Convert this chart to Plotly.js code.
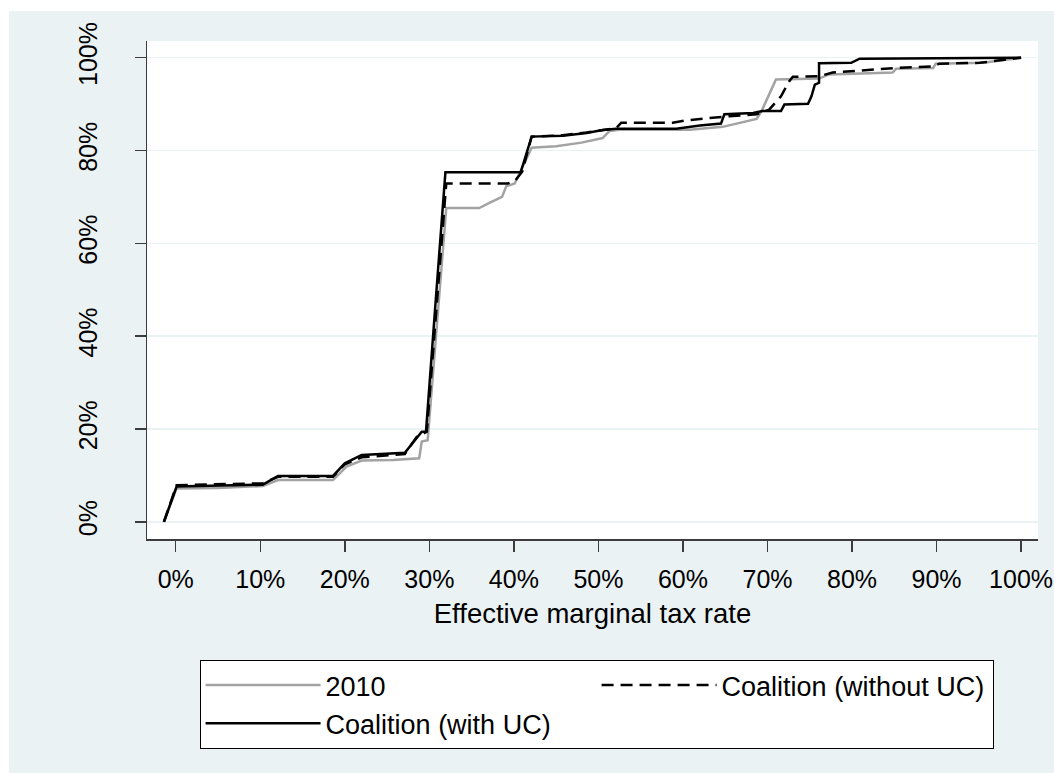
<!DOCTYPE html>
<html>
<head>
<meta charset="utf-8">
<script src="https://cdn.plot.ly/plotly-3.0.1.min.js"></script>
<style>
  html, body { margin: 0; padding: 0; background: #ffffff; }
  #chart { position: absolute; left: 9px; top: 11px; width: 1045px; height: 762px; }
</style>
</head>
<body>
<div id="chart"></div>
<script>
// Effective marginal tax rate (%) and cumulative share (%)
const x2010 = [-1.4, 0.1, 5, 10.3, 12.1, 18.6, 20.2, 22.0, 25.7, 28.8, 29.1, 29.8, 32.0, 35.9, 37.1, 38.6, 39.1, 40.1, 42.1, 45.0, 48.0, 50.5, 51.3, 52.5, 60.8, 64.7, 68.7, 69.3, 71.0, 76.1, 77.3, 84.8, 85.2, 89.6, 89.9, 95.5, 100];
const y2010 = [0, 7.2, 7.3, 7.7, 9.0, 9.0, 11.9, 13.2, 13.3, 13.7, 17.3, 17.6, 67.6, 67.6, 68.7, 70.0, 72.3, 72.9, 80.6, 80.9, 81.7, 82.7, 84.2, 84.5, 84.5, 85.1, 86.8, 88.5, 95.3, 95.5, 96.4, 96.8, 97.6, 97.8, 98.7, 98.9, 100];

const xNoUC = [-1.4, 0.1, 10.3, 12.1, 18.6, 20.0, 22.0, 27.1, 28.5, 29.7, 32.0, 39.3, 40.1, 41.0, 42.1, 45.8, 48.6, 50.5, 52.1, 52.7, 58.8, 60.4, 62.0, 64.3, 65.5, 68.7, 70.2, 71.6, 72.6, 73.0, 76.1, 77.7, 84.0, 85.2, 89.6, 90.3, 95.1, 100];
const yNoUC = [0, 7.9, 8.3, 9.7, 9.7, 12.4, 13.9, 14.6, 18.3, 19.4, 72.9, 72.9, 73.4, 75.5, 83.0, 83.3, 83.9, 84.4, 84.8, 86.0, 86.0, 86.5, 86.8, 87.1, 87.4, 87.8, 88.8, 91.7, 95.0, 95.9, 96.0, 96.8, 97.6, 97.8, 98.1, 98.7, 98.9, 100];

const xUC = [-1.4, 0.1, 10.3, 12.1, 18.6, 20.0, 22.0, 27.1, 29.1, 29.6, 30.7, 31.9, 40.8, 42.1, 45.8, 48.6, 50.5, 52.1, 59.2, 62.0, 64.5, 64.9, 68.3, 69.4, 71.6, 72.0, 74.8, 75.2, 75.6, 76.1, 76.1, 79.9, 80.9, 100];
const yUC = [0, 7.6, 8.0, 9.9, 9.9, 12.6, 14.4, 14.9, 19.4, 19.4, 46.4, 75.3, 75.3, 83.0, 83.2, 83.8, 84.4, 84.7, 84.7, 85.4, 85.8, 87.8, 88.1, 88.5, 88.5, 89.9, 90.1, 91.7, 94.2, 94.6, 98.8, 98.9, 99.8, 100];

const xTicks = [0, 10, 20, 30, 40, 50, 60, 70, 80, 90, 100];
const yTicks = [0, 20, 40, 60, 80, 100];
const seriesNames = ["2010", "Coalition (without UC)", "Coalition (with UC)"];

const FONT = "Liberation Sans, Arial, sans-serif";
const BG = "#eaf2f3";
const AX = "#3c3c3c";

const traces = [
  { x: x2010, y: y2010, name: seriesNames[0], type: "scatter", mode: "lines",
    line: { color: "#a3a3a3", width: 2.5 } },
  { x: xNoUC, y: yNoUC, name: seriesNames[1], type: "scatter", mode: "lines",
    line: { color: "#000000", width: 2.5, dash: "12px,7px" } },
  { x: xUC, y: yUC, name: seriesNames[2], type: "scatter", mode: "lines",
    line: { color: "#000000", width: 2.5 } }
];

const layout = {
  width: 1045, height: 762,
  paper_bgcolor: BG,
  plot_bgcolor: "#ffffff",
  margin: { l: 138, r: 16, t: 30, b: 234, pad: 0 },
  font: { family: FONT, size: 25, color: "#000000" },
  showlegend: true,
  xaxis: {
    range: [-3.4, 102.0],
    tickvals: xTicks,
    ticktext: xTicks.map(v => v + "%"),
    showgrid: false, zeroline: false,
    showline: true, linecolor: AX, linewidth: 1.5,
    ticks: "outside", ticklen: 11, tickwidth: 1.5, tickcolor: AX,
    ticklabelstandoff: 6,
    tickfont: { family: FONT, size: 25, color: "#000" },
    title: { text: "Effective marginal tax rate", font: { family: FONT, size: 27.5, color: "#000" }, standoff: 12 }
  },
  yaxis: {
    range: [-3.7, 103.6],
    tickvals: yTicks,
    ticktext: yTicks.map(v => v + "%"),
    tickangle: -90,
    showgrid: true, gridcolor: BG, gridwidth: 1.5,
    zeroline: false,
    showline: true, linecolor: AX, linewidth: 1.5,
    ticks: "outside", ticklen: 11, tickwidth: 1.5, tickcolor: AX,
    ticklabelstandoff: 28,
    tickfont: { family: FONT, size: 25, color: "#000" }
  },
  legend: {
    orientation: "h",
    x: 0.059, xanchor: "left",
    y: -0.243, yanchor: "top",
    bgcolor: "#ffffff",
    bordercolor: "#000000", borderwidth: 1,
    font: { family: FONT, size: 27, color: "#000" },
    itemwidth: 115,
    entrywidth: 266, entrywidthmode: "pixels",
    traceorder: "normal",
    itemclick: false, itemdoubleclick: false
  }
};

Plotly.newPlot("chart", traces, layout, { staticPlot: true, displayModeBar: false });
</script>
</body>
</html>
